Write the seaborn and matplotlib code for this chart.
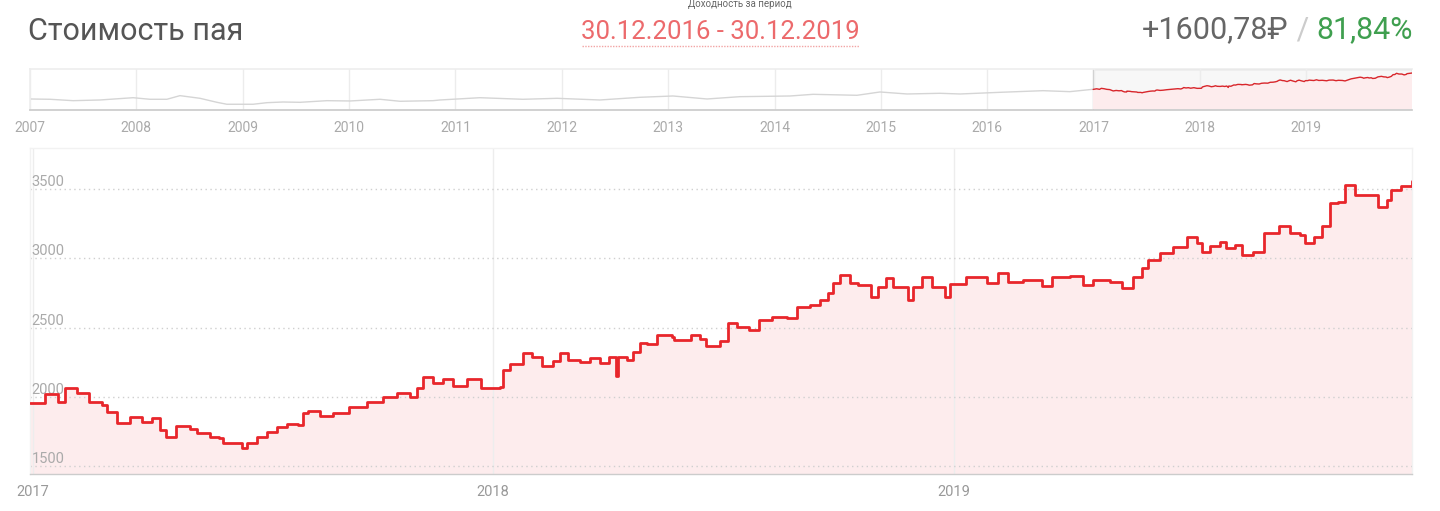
import matplotlib
matplotlib.use("Agg")
import matplotlib.pyplot as plt
from matplotlib.lines import Line2D
import seaborn as sns
import pandas as pd

# ---------------- data ----------------
main_start = "2016-12-30"
main_end = "2019-12-30"
main_days = [0, 12, 22, 28, 37, 47, 57, 61, 69, 79,
             89, 97, 103, 108, 115, 116, 127, 132, 143, 150,
             153, 164, 168, 172, 180, 188, 196, 204, 212, 216,
             220, 230, 240, 253, 267, 280, 291, 301, 307, 311,
             319, 327, 335, 346, 357, 372, 375, 380, 391, 398,
             406, 414, 420, 426, 436, 444, 452, 459, 464, 466,
             473, 478, 483, 489, 497, 509, 510, 524, 531, 536,
             547, 553, 560, 570, 578, 588, 600, 608, 618, 626,
             632, 636, 642, 650, 656, 666, 672, 678, 684, 696,
             700, 707, 715, 725, 729, 737, 742, 758, 767, 775,
             787, 802, 810, 824, 834, 842, 856, 865, 874, 881,
             886, 895, 906, 917, 925, 929, 935, 943, 948, 955,
             960, 969, 978, 990, 998, 1006, 1010, 1017, 1024, 1030,
             1036, 1042, 1050, 1060, 1068, 1075, 1078, 1086, 1095]
main_values = [1956, 2021, 1965, 2062, 2028, 1965, 1940, 1893, 1809, 1857,
               1822, 1846, 1761, 1713, 1713, 1790, 1770, 1740, 1713, 1705,
               1665, 1665, 1629, 1665, 1713, 1750, 1786, 1805, 1800, 1882,
               1900, 1862, 1882, 1930, 1965, 2000, 2030, 2000, 2062, 2141,
               2100, 2127, 2076, 2127, 2062, 2068, 2194, 2240, 2320, 2290,
               2220, 2256, 2315, 2263, 2250, 2280, 2245, 2290, 2148, 2290,
               2265, 2325, 2392, 2383, 2448, 2436, 2412, 2448, 2417, 2370,
               2405, 2532, 2503, 2484, 2556, 2580, 2568, 2652, 2664, 2700,
               2748, 2820, 2881, 2820, 2808, 2724, 2796, 2856, 2796, 2700,
               2796, 2864, 2796, 2724, 2815, 2815, 2864, 2825, 2898, 2832,
               2848, 2800, 2864, 2873, 2808, 2848, 2832, 2784, 2868, 2928,
               2989, 3037, 3085, 3153, 3110, 3050, 3090, 3121, 3073, 3097,
               3025, 3050, 3182, 3235, 3182, 3170, 3110, 3158, 3235, 3399,
               3411, 3531, 3459, 3459, 3375, 3423, 3496, 3525, 3557]

history_start = "2007-01-01"
history_days = [0, 69, 148, 240, 354, 412, 470, 515, 584, 642,
                676, 766, 814, 869, 927, 1020, 1099, 1202, 1271, 1384,
                1408, 1545, 1693, 1810, 1957, 2095, 2208, 2325, 2438, 2610,
                2689, 2840, 2919, 3012, 3125, 3194, 3331, 3479, 3571, 3650]
history_values = [1025, 995, 860, 927, 1150, 995, 995, 1350, 1090, 700,
                  510, 510, 665, 730, 700, 860, 830, 995, 800, 860,
                  927, 1150, 995, 1090, 927, 1190, 1317, 1025, 1250, 1317,
                  1480, 1385, 1708, 1513, 1580, 1513, 1675, 1835, 1740, 1970]

y_ticks = [1500, 2000, 2500, 3000, 3500]
main_year_labels = ["2017", "2018", "2019"]
nav_year_labels = [str(y) for y in range(2007, 2020)]

title = "Стоимость пая"
period_caption = "Доходность за период"
period_text = "30.12.2016 - 30.12.2019"
gain_abs = "+1600,78₽"
gain_sep = " / "
gain_pct = "81,84%"

# ---------------- style ----------------
sns.set_theme(style="white")
plt.rcParams['font.family'] = ['Roboto', 'DejaVu Sans']

RED = "#e8262b"
PINK = "#fdeced"

main_df = pd.DataFrame({
    "date": pd.Timestamp(main_start) + pd.to_timedelta(main_days, unit="D"),
    "value": main_values,
})
hist_df = pd.DataFrame({
    "date": pd.Timestamp(history_start) + pd.to_timedelta(history_days, unit="D"),
    "value": history_values,
})

W, H = 1440, 511
fig = plt.figure(figsize=(W / 100, H / 100), dpi=100)


def box(l, t, r, b):
    return [l / W, 1 - b / H, (r - l) / W, (b - t) / H]


ax = fig.add_axes(box(30, 148, 1412, 474))
nav = fig.add_axes(box(30, 69, 1412, 110))

x0, x1 = pd.Timestamp(main_start), pd.Timestamp(main_end)

# ---------------- main chart ----------------
ax.fill_between(main_df["date"], main_df["value"], 0, step="post", color=PINK, lw=0, zorder=1)
sns.lineplot(data=main_df, x="date", y="value", ax=ax, color=RED, lw=2.0,
             drawstyle="steps-post", estimator=None, zorder=3)
ax.set_xlim(x0, x1)
ax.set_ylim(1443, 3798)
ax.set_xlabel("")
ax.set_ylabel("")
ax.set_axisbelow("line")

ax.set_yticks(y_ticks)
ax.set_yticklabels([str(v) for v in y_ticks], ha="left", va="bottom")
ax.tick_params(axis="y", length=0, pad=-1, labelsize=10.5, labelcolor="#aaaaaa")
ax.yaxis.grid(True, color="#cfcfcf", linestyle=(0, (1, 2.5)), lw=1)

ax.set_xticks([pd.Timestamp(f"{y}-01-01") for y in main_year_labels])
ax.set_xticklabels(main_year_labels)
ax.tick_params(axis="x", length=3, width=1, color="#cccccc", pad=5,
               labelsize=10.5, labelcolor="#999999")
ax.xaxis.grid(True, color="#ededed", lw=1, linestyle="-")

for side in ["left", "top", "right"]:
    ax.spines[side].set_color("#f2f2f2")
    ax.spines[side].set_linewidth(1)
ax.spines["bottom"].set_color("#cccccc")
ax.spines["bottom"].set_linewidth(1)

# ---------------- navigator ----------------
nav.axvspan(x0, x1, facecolor="#f7f7f7", edgecolor="#cccccc", lw=1, zorder=0.5)
nav.fill_between(main_df["date"], main_df["value"], 0, step="post", color=PINK, lw=0, zorder=1)
sns.lineplot(data=hist_df, x="date", y="value", ax=nav, color="#d5d5d5", lw=1, estimator=None, zorder=2)
sns.lineplot(data=main_df, x="date", y="value", ax=nav, color="#d8262b", lw=1,
             estimator=None, zorder=3)
nav.set_xlim(pd.Timestamp(history_start), x1)
nav.set_ylim(-50, 3950)
nav.set_xlabel("")
nav.set_ylabel("")
nav.set_yticks([])
nav.set_xticks([pd.Timestamp(f"{y}-01-01") for y in nav_year_labels])
nav.set_xticklabels(nav_year_labels)
nav.tick_params(axis="x", length=4, width=1, color="#cccccc", pad=4,
                labelsize=10, labelcolor="#aaaaaa")
nav.xaxis.grid(True, color="#ececec", lw=1)
nav.set_axisbelow(True)
for side in ["left", "top"]:
    nav.spines[side].set_color("#eeeeee")
nav.spines["right"].set_visible(False)
nav.spines["bottom"].set_color("#cccccc")

# ---------------- header ----------------
fig.text(28 / W, 1 - 39.5 / H, title, fontsize=22, color="#555555",
         ha="left", va="baseline")
fig.text(740 / W, 1 - 7 / H, period_caption, fontsize=7, color="#666666",
         ha="center", va="baseline")
fig.text(720 / W, 1 - 39 / H, period_text, fontsize=18.5, color="#ec6a6c",
         ha="center", va="baseline")
fig.add_artist(Line2D([582 / W, 859 / W], [1 - 46.5 / H, 1 - 46.5 / H],
                      color="#f2a4a4", lw=1, linestyle=(0, (1, 1))))

renderer = fig.canvas.get_renderer()
right_x = 1413
for txt, col in [(gain_pct, "#3f9f4f"), (gain_sep, "#cccccc"), (gain_abs, "#666666")]:
    t = fig.text(right_x / W, 1 - 38.5 / H, txt, fontsize=22, color=col,
                 ha="right", va="baseline")
    bb = t.get_window_extent(renderer)
    right_x = bb.x0

fig.savefig("out.png", dpi=100)
